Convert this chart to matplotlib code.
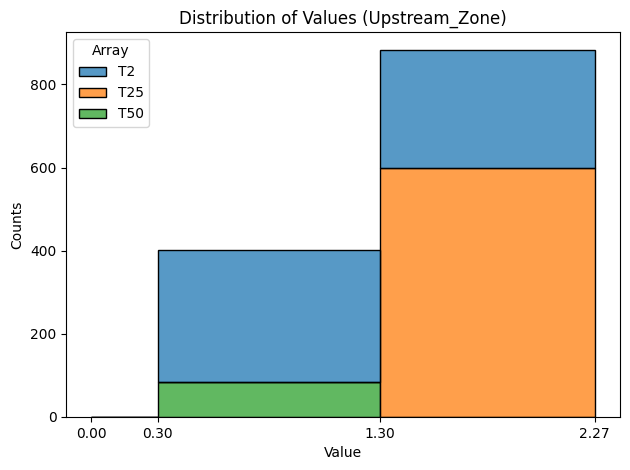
import matplotlib
matplotlib.use("Agg")
import matplotlib.pyplot as plt
import seaborn as sns
import pandas as pd

# bin edges and counts per array
bin_edges = [0.00, 0.30, 1.30, 2.27]
arrays = ["T2", "T25", "T50"]
counts_T2 = [0, 318, 282]
counts_T25 = [0, 0, 600]
counts_T50 = [0, 84, 0]

centers = [(bin_edges[i] + bin_edges[i + 1]) / 2 for i in range(len(bin_edges) - 1)]
rows = []
for name, cnts in zip(arrays, [counts_T2, counts_T25, counts_T50]):
    for c, n in zip(centers, cnts):
        rows.append({"Value": c, "Array": name, "Count": n})
df = pd.DataFrame(rows)

fig, ax = plt.subplots(figsize=(6.3, 4.7), dpi=100)
sns.histplot(data=df, x="Value", hue="Array", weights="Count", bins=bin_edges,
             multiple="stack", hue_order=arrays, ax=ax)
ax.set_xticks(bin_edges)
ax.set_xticklabels([f"{b:.2f}" for b in bin_edges])
ax.set_xlabel("Value")
ax.set_ylabel("Counts")
ax.set_title("Distribution of Values (Upstream_Zone)")
sns.move_legend(ax, "upper left")
# axes position matched to the reference instead of tight_layout
fig.subplots_adjust(left=0.105, right=0.984, top=0.932, bottom=0.113)
plt.savefig("out.png")
